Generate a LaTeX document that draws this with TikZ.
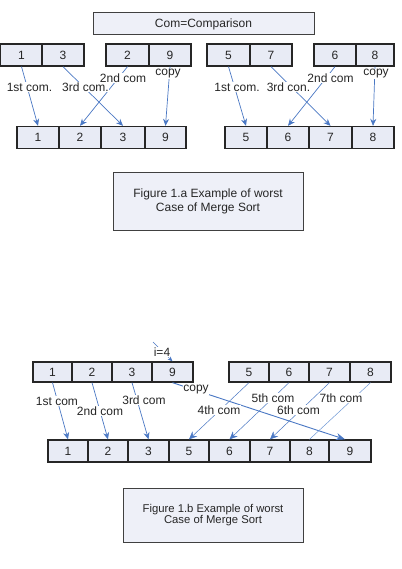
\documentclass[tikz,border=0pt]{standalone}
\usepackage{fontspec}
\setmainfont{Liberation Sans}
\usetikzlibrary{arrows.meta,calc}
\definecolor{cellfill}{HTML}{E8EBF5}
\definecolor{boxfill}{HTML}{EEF0F8}
\definecolor{arrowblue}{HTML}{4A78C4}
\definecolor{linkblue}{HTML}{7099D6}
\definecolor{txt}{HTML}{262626}
\begin{document}
\begin{tikzpicture}[x=1pt,y=-1pt,
  cell/.style={draw=black!85, line width=1.3pt, fill=cellfill, inner sep=0pt,
    font=\fontsize{12}{14}\selectfont, text=txt},
  capbox/.style={draw=black!75, line width=1pt, fill=boxfill, inner sep=0pt, align=center,
    font=\fontsize{12}{13.5}\selectfont, text=txt},
  lbl/.style={fill=white, inner sep=0.6pt, font=\fontsize{12}{14}\selectfont, text=txt},
  arr/.style={draw=arrowblue, line width=0.7pt, -{Stealth[length=7pt,width=6pt]}},
  thinarr/.style={draw=linkblue, line width=0.5pt, -{Stealth[length=8pt,width=7pt]}, arrowblue},
  thinline/.style={draw=linkblue, line width=0.5pt}
]
\fill[white] (0,0) rectangle (401,569);
\useasboundingbox (0,0) rectangle (401,569);

% ---------- Part a ----------
\node[capbox, minimum width=221pt, minimum height=22pt, anchor=center] (com) at (203.5,24) {Com=Comparison};

\begin{scope}[every node/.style={cell, minimum height=22pt}]
\node[minimum width=43pt] (a1) at (21.5,55) {1};
\node[minimum width=42pt] (a3) at (63,55) {3};
\node[minimum width=43pt] (b2) at (127.5,55) {2};
\node[minimum width=42pt] (b9) at (170,55) {9};
\node[minimum width=43pt] (c5) at (228.5,55) {5};
\node[minimum width=42pt] (c7) at (271,55) {7};
\node[minimum width=42pt] (d6) at (335,55) {6};
\node[minimum width=38pt] (d8) at (375,55) {8};

\node[minimum width=42pt] (r1) at (38,137.5) {1};
\node[minimum width=42pt] (r2) at (80,137.5) {2};
\node[minimum width=44pt] (r3) at (123,137.5) {3};
\node[minimum width=41pt] (r9) at (165.5,137.5) {9};
\node[minimum width=42pt] (s5) at (246,137.5) {5};
\node[minimum width=42pt] (s6) at (288,137.5) {6};
\node[minimum width=43pt] (s7) at (330.5,137.5) {7};
\node[minimum width=42pt] (s8) at (373,137.5) {8};
\end{scope}

\draw[arr] (a1.south) -- (r1.north);
\draw[arr] (a3.south) -- (r3.north);
\draw[arr] (b2.south) -- (r2.north);
\draw[arr] (b9.south) -- (r9.north);
\draw[arr] (c5.south) -- (s5.north);
\draw[arr] (c7.south) -- (s7.north);
\draw[arr] (d6.south) -- (s6.north);
\draw[arr] (d8.south) -- (s8.north);

\node[lbl] (l1) at (29.5,87) {1st com.};
\node[lbl] (l2) at (85.5,87) {3rd com.};
\node[lbl] (l3) at (123,78) {2nd com};
\node[lbl] (l4) at (168,74) {copy};
\node[lbl] (l5) at (237,87) {1st com.};
\node[lbl] (l6) at (288.5,87) {3rd con.};
\node[lbl] (l7) at (330.5,78) {2nd com};
\node[lbl] (l8) at (376,74) {copy};

\node[capbox, minimum width=190pt, minimum height=57pt] (figa) at (208,201.5) {Figure 1.a Example of worst\\Case of Merge Sort};

% ---------- Part b ----------
\begin{scope}[every node/.style={cell, minimum height=20pt}]
\node[minimum width=39pt] (e1) at (52.5,372) {1};
\node[minimum width=40pt] (e2) at (92,372) {2};
\node[minimum width=40pt] (e3) at (132,372) {3};
\node[minimum width=41pt] (e9) at (172.5,372) {9};
\node[minimum width=40pt] (g5) at (249,372) {5};
\node[minimum width=40pt] (g6) at (289,372) {6};
\node[minimum width=41pt] (g7) at (329.5,372) {7};
\node[minimum width=41pt] (g8) at (370.5,372) {8};
\end{scope}
\begin{scope}[every node/.style={cell, minimum height=22pt}]
\node[minimum width=40pt] (f1) at (68,451) {1};
\node[minimum width=40pt] (f2) at (108,451) {2};
\node[minimum width=41pt] (f3) at (148.5,451) {3};
\node[minimum width=40pt] (f5) at (189,451) {5};
\node[minimum width=41pt] (f6) at (229.5,451) {6};
\node[minimum width=40pt] (f7) at (270,451) {7};
\node[minimum width=39pt] (f8) at (309.5,451) {8};
\node[minimum width=42pt] (f9) at (350,451) {9};
\end{scope}

\coordinate (itop) at (153,342);
\draw[thinline, -{Stealth[length=5pt,width=4pt]}, arrowblue] (itop) -- (e9.north);
\node[lbl, inner sep=0.3pt] (li) at (162,352) {i=4};

\draw[arr] (e1.south) -- (f1.north);
\draw[arr] (e2.south) -- (f2.north);
\draw[arr] (e3.south) -- (f3.north);
\draw[draw=arrowblue, line width=0.9pt, -{Stealth[length=9pt,width=7pt]}] (e9.south) -- ($(f9.north)+(-5,0)$);
\draw[thinarr] (g5.south) -- (f5.north);
\draw[thinarr] (g6.south) -- (f6.north);
\draw[thinarr] (g7.south) -- (f7.north);
\draw[thinline] (g8.south) -- (f8.north);

\node[lbl] (m1) at (57,401) {1st com};
\node[lbl] (m2) at (100,411) {2nd com};
\node[lbl] (m3) at (144,400) {3rd com};
\node[lbl] (m4) at (196,390) {copy};
\node[lbl] (m5) at (219,410) {4th com};
\node[lbl] (m6) at (273,398) {5th com};
\node[lbl] (m7) at (298.5,410) {6th com};
\node[lbl] (m8) at (341,398) {7th com};

\node[capbox, minimum width=180pt, minimum height=54pt, font=\fontsize{11.3}{10}\selectfont] (figb) at (213,515) {Figure 1.b Example of worst\\Case of Merge Sort};
\end{tikzpicture}
\end{document}
